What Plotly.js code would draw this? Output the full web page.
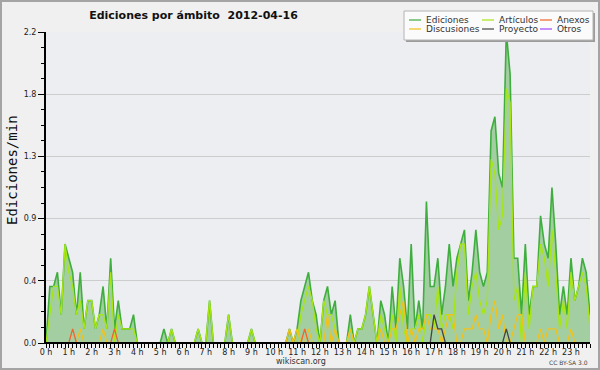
<!DOCTYPE html>
<html>
<head>
<meta charset="utf-8">
<script src="https://cdn.plot.ly/plotly-3.0.1.min.js"></script>
<style>
html,body{margin:0;padding:0;background:#f0f0f0;}
#chart{width:596px;height:366px;border:2px solid #a4a4a4;}
</style>
</head>
<body>
<div id="chart"></div>
<script>
// ---- data (Ediciones por minuto, muestras cada 10 minutos) ----
const minutosPorMuestra = 10;

const ediciones = [
  0, 0.4, 0.4, 0.5, 0.2, 0.7, 0.6, 0.5, 0.2, 0.5, 0.1, 0.3,
  0.3, 0.1, 0.2, 0.4, 0.1, 0.6, 0.1, 0.3, 0.1, 0.1, 0.1, 0.2,
  0, 0, 0, 0, 0, 0, 0, 0.1, 0, 0.1, 0, 0,
  0, 0, 0, 0, 0.1, 0, 0, 0.3, 0, 0, 0, 0,
  0.2, 0, 0, 0, 0, 0, 0.1, 0, 0, 0, 0, 0,
  0, 0, 0, 0, 0.1, 0, 0.1, 0.3, 0.4, 0.5, 0.3, 0.2,
  0, 0.3, 0.4, 0.2, 0.3, 0, 0, 0, 0.2, 0, 0.1, 0.1,
  0.2, 0.4, 0.2, 0, 0.3, 0.2, 0, 0.4, 0.1, 0.6, 0.4, 0.1,
  0.7, 0.1, 0.3, 0.1, 1.0, 0.4, 0.4, 0.6, 0.2, 0.4, 0.7, 0.4,
  0.6, 0.7, 0.8, 0.3, 0.5, 0.8, 0.5, 0.4, 0.5, 1.5, 1.6, 1.2,
  1.1, 2.2, 1.9, 0.6, 0.6, 0.2, 0.7, 0.2, 0.4, 0.4, 0.9, 0.7,
  0.6, 1.1, 0.7, 0.2, 0.4, 0.2, 0.6, 0.3, 0.4, 0.6, 0.5, 0.2
];

const articulos = [
  0, 0.2, 0.4, 0.4, 0.2, 0.7, 0.5, 0.4, 0.2, 0.3, 0.1, 0.3,
  0.3, 0.1, 0.2, 0.2, 0.1, 0.5, 0, 0.2, 0.1, 0.1, 0.1, 0.1,
  0, 0, 0, 0, 0, 0, 0, 0, 0, 0.1, 0, 0,
  0, 0, 0, 0, 0.1, 0, 0, 0.3, 0, 0, 0, 0,
  0.2, 0, 0, 0, 0, 0, 0.1, 0, 0, 0, 0, 0,
  0, 0, 0, 0, 0, 0, 0, 0.2, 0.3, 0.4, 0.3, 0.1,
  0, 0.3, 0.2, 0.2, 0.1, 0, 0, 0, 0.1, 0, 0.1, 0.1,
  0.2, 0.4, 0.2, 0, 0.2, 0.1, 0, 0.2, 0, 0.4, 0.1, 0,
  0.1, 0.1, 0.2, 0, 0.2, 0.2, 0.1, 0.4, 0.1, 0.2, 0.2, 0.1,
  0.5, 0.7, 0.7, 0.2, 0.4, 0.5, 0.3, 0.2, 0.3, 1.3, 1.2, 0.8,
  0.9, 1.8, 1.7, 0.3, 0.4, 0, 0.5, 0.1, 0.4, 0.4, 0.7, 0.6,
  0.4, 0.8, 0.5, 0.1, 0.3, 0.1, 0.5, 0.3, 0.4, 0.5, 0.4, 0.1
];

const anexos = [
  0, 0, 0, 0, 0, 0, 0, 0.1, 0, 0, 0, 0,
  0, 0, 0, 0, 0, 0, 0.1, 0, 0, 0, 0, 0,
  0, 0, 0, 0, 0, 0, 0, 0, 0, 0, 0, 0,
  0, 0, 0, 0, 0, 0, 0, 0, 0, 0, 0, 0,
  0, 0, 0, 0, 0, 0, 0, 0, 0, 0, 0, 0,
  0, 0, 0, 0, 0, 0, 0, 0, 0.1, 0, 0, 0,
  0, 0, 0, 0, 0, 0, 0, 0, 0, 0, 0, 0,
  0, 0, 0, 0, 0, 0, 0, 0, 0, 0, 0, 0,
  0, 0, 0, 0, 0, 0, 0, 0, 0, 0, 0, 0,
  0, 0, 0, 0, 0, 0, 0, 0, 0, 0, 0, 0,
  0, 0, 0, 0, 0, 0, 0, 0, 0, 0, 0, 0,
  0, 0, 0, 0, 0, 0, 0, 0, 0, 0, 0, 0
];

const discusiones = [
  0, 0, 0, 0, 0, 0, 0, 0, 0, 0.1, 0, 0,
  0, 0, 0, 0.1, 0, 0, 0, 0, 0, 0, 0, 0,
  0, 0, 0, 0, 0, 0, 0, 0, 0, 0, 0, 0,
  0, 0, 0, 0, 0, 0, 0, 0, 0, 0, 0, 0,
  0, 0, 0, 0, 0, 0, 0, 0, 0, 0, 0, 0,
  0, 0, 0, 0, 0.1, 0, 0.1, 0, 0, 0.1, 0, 0,
  0, 0, 0.2, 0, 0.1, 0, 0, 0, 0.1, 0, 0, 0,
  0, 0, 0, 0, 0.1, 0, 0, 0.1, 0.1, 0.2, 0.3, 0,
  0.1, 0, 0.1, 0.1, 0.2, 0.1, 0.1, 0.1, 0, 0.1, 0.2, 0.2,
  0, 0, 0.1, 0.1, 0.1, 0.2, 0.1, 0.1, 0, 0.2, 0.3, 0.1,
  0.2, 0, 0, 0.1, 0.2, 0.2, 0, 0, 0, 0, 0.1, 0,
  0.1, 0.1, 0.1, 0, 0, 0, 0.1, 0, 0, 0, 0, 0
];

const proyecto = [
  0, 0, 0, 0, 0, 0, 0, 0, 0, 0, 0, 0,
  0, 0, 0, 0, 0, 0, 0, 0, 0, 0, 0, 0,
  0, 0, 0, 0, 0, 0, 0, 0, 0, 0, 0, 0,
  0, 0, 0, 0, 0, 0, 0, 0, 0, 0, 0, 0,
  0, 0, 0, 0, 0, 0, 0, 0, 0, 0, 0, 0,
  0, 0, 0, 0, 0, 0, 0, 0, 0, 0, 0, 0,
  0, 0, 0, 0, 0, 0, 0, 0, 0, 0, 0, 0,
  0, 0, 0, 0, 0, 0, 0, 0, 0, 0, 0, 0,
  0, 0, 0, 0, 0, 0, 0.2, 0.1, 0.1, 0, 0, 0,
  0, 0, 0, 0, 0, 0, 0, 0, 0, 0, 0, 0,
  0, 0.1, 0, 0, 0, 0, 0, 0, 0, 0, 0, 0,
  0, 0, 0, 0, 0, 0, 0, 0, 0, 0, 0, 0
];

const otros = [
  0, 0, 0, 0, 0, 0, 0, 0, 0, 0, 0, 0,
  0, 0, 0, 0, 0, 0, 0, 0, 0, 0, 0, 0,
  0, 0, 0, 0, 0, 0, 0, 0, 0, 0, 0, 0,
  0, 0, 0, 0, 0, 0, 0, 0, 0, 0, 0, 0,
  0, 0, 0, 0, 0, 0, 0, 0, 0, 0, 0, 0,
  0, 0, 0, 0, 0, 0, 0, 0, 0, 0, 0, 0,
  0, 0, 0, 0, 0, 0, 0, 0, 0, 0, 0, 0,
  0, 0, 0, 0, 0, 0, 0, 0, 0, 0, 0, 0,
  0, 0, 0, 0, 0, 0, 0, 0, 0, 0, 0, 0,
  0, 0, 0, 0, 0, 0, 0, 0, 0, 0, 0, 0,
  0, 0, 0, 0, 0, 0, 0, 0, 0, 0, 0, 0,
  0, 0, 0, 0, 0, 0, 0, 0, 0, 0, 0, 0
];

const nombres = ['Ediciones', 'Artículos', 'Anexos', 'Discusiones', 'Proyecto', 'Otros'];
const horasTicks = [0,1,2,3,4,5,6,7,8,9,10,11,12,13,14,15,16,17,18,19,20,21,22,23];
const etiquetasHoras = ['0 h','1 h','2 h','3 h','4 h','5 h','6 h','7 h','8 h','9 h','10 h','11 h',
  '12 h','13 h','14 h','15 h','16 h','17 h','18 h','19 h','20 h','21 h','22 h','23 h'];
const yTicks = [0, 0.44, 0.88, 1.32, 1.76, 2.2];
const yEtiquetas = ['0.0', '0.4', '0.9', '1.3', '1.8', '2.2'];

// ---- styles ----
const colores = ['#3fae3f', '#a8e612', '#f2642a', '#f3c21a', '#444444', '#a347ff'];
const series = [ediciones, articulos, anexos, discusiones, proyecto, otros];

const horas = ediciones.map((_, i) => i * minutosPorMuestra / 60);

const traces = series.map((vals, k) => {
  const t = {
    type: 'scatter', mode: 'lines', name: nombres[k],
    x: horas, y: vals,
    line: {color: colores[k], width: k === 0 ? 1.6 : 1.3},
    hoverinfo: 'skip'
  };
  if (k === 0) { t.fill = 'tozeroy'; t.fillcolor = '#a2cea2'; }
  return t;
});
// draw order: Ediciones (fill) first, then others on top
const orden = [0, 1, 3, 2, 4, 5];
const data = orden.map(k => traces[k]);

// page pixel -> paper coordinates (plot area: page x 46..590, y 32..343)
const PL = 46, PW = 544, PT = 32, PH = 311;
const fx = x => (x - PL) / PW;
const fy = y => 1 - (y - PT) / PH;

const shapes = [];
const annotations = [];

// baseline (x axis line, over the zero-level segments of the series)
shapes.push({type:'line', xref:'paper', yref:'paper', x0:0, x1:1, y0:0, y1:0,
  line:{color:'#000', width:2}, layer:'above'});

// legend box with shadow
shapes.push({type:'rect', xref:'paper', yref:'paper', x0:fx(406), x1:fx(595), y0:fy(13), y1:fy(42),
  fillcolor:'#9c9c9c', line:{width:0}, layer:'above'});
shapes.push({type:'rect', xref:'paper', yref:'paper', x0:fx(404), x1:fx(593), y0:fy(11), y1:fy(40),
  fillcolor:'#fbfbfb', line:{color:'#b4b4b4', width:1}, layer:'above'});
const colX = [409, 482, 540];
const txtX = [424, 497, 555];
const rowY = [20, 29];
nombres.forEach((n, k) => {
  const c = k % 3, r = Math.floor(k / 3);
  shapes.push({type:'line', xref:'paper', yref:'paper', x0:fx(colX[c]), x1:fx(colX[c] + 12),
    y0:fy(rowY[r]), y1:fy(rowY[r]), line:{color:colores[k], width:1.2}, layer:'above'});
  annotations.push({xref:'paper', yref:'paper', x:fx(txtX[c]), y:fy(rowY[r]), xanchor:'left', yanchor:'middle',
    text:n, showarrow:false, font:{family:'DejaVu Sans', size:9, color:'#333'}});
});

// y axis title
annotations.push({xref:'paper', yref:'paper', x:fx(12), y:fy(170), xanchor:'center', yanchor:'middle',
  text:'Ediciones/min', textangle:-90, showarrow:false,
  font:{family:'DejaVu Sans Mono, monospace', size:14, color:'#111'}});
// footer
annotations.push({xref:'paper', yref:'paper', x:fx(301), y:fy(361.5), xanchor:'center', yanchor:'middle',
  text:'wikiscan.org', showarrow:false, font:{family:'DejaVu Sans', size:8, color:'#333'}});
annotations.push({xref:'paper', yref:'paper', x:fx(590), y:fy(362.5), xanchor:'right', yanchor:'middle',
  text:'CC BY-SA 3.0', showarrow:false, font:{family:'DejaVu Sans', size:6, color:'#444'}});

const layout = {
  width: 596, height: 366,
  margin: {l:44, r:8, t:30, b:25, pad:0},
  paper_bgcolor: '#f0f0f0',
  plot_bgcolor: '#eceef1',
  showlegend: false,
  font: {family: 'DejaVu Sans, sans-serif', size: 8, color: '#222'},
  title: {
    text: '<b>Ediciones por ámbito\u00a0 2012-04-16</b>',
    font: {family: 'DejaVu Sans', size: 11, color: '#111'},
    xref: 'paper', x: fx(193.5), xanchor: 'center',
    yref: 'container', y: 1 - (15 - 2) / 366, yanchor: 'middle'
  },
  xaxis: {
    range: [0, horas[horas.length - 1]],
    tickmode: 'array', tickvals: horasTicks, ticktext: etiquetasHoras,
    ticks: 'outside', ticklen: 4, tickwidth: 1, tickcolor: '#000',
    ticklabelstandoff: -3,
    showline: true, linecolor: '#000', linewidth: 1,
    showgrid: false, zeroline: false,
    minor: {dtick: minutosPorMuestra / 60, ticks: 'outside', ticklen: 4, tickwidth: 1, tickcolor: '#000', showgrid: false},
    tickfont: {family: 'DejaVu Sans', size: 8, color: '#222'},
    fixedrange: true
  },
  yaxis: {
    range: [0, 2.2],
    tickmode: 'array', tickvals: yTicks, ticktext: yEtiquetas,
    ticks: 'outside', ticklen: 6, tickwidth: 1, tickcolor: '#000',
    showline: true, linecolor: '#000', linewidth: 2,
    showgrid: true, gridcolor: '#cdcdcd', gridwidth: 1, zeroline: false,
    minor: {dtick: 0.11, ticks: 'outside', ticklen: 3, tickwidth: 1, tickcolor: '#000', showgrid: false},
    tickfont: {family: 'DejaVu Sans', size: 8, color: '#222'},
    fixedrange: true
  },
  shapes: shapes,
  annotations: annotations
};

Plotly.newPlot('chart', data, layout, {staticPlot: true, displayModeBar: false});
</script>
</body>
</html>
